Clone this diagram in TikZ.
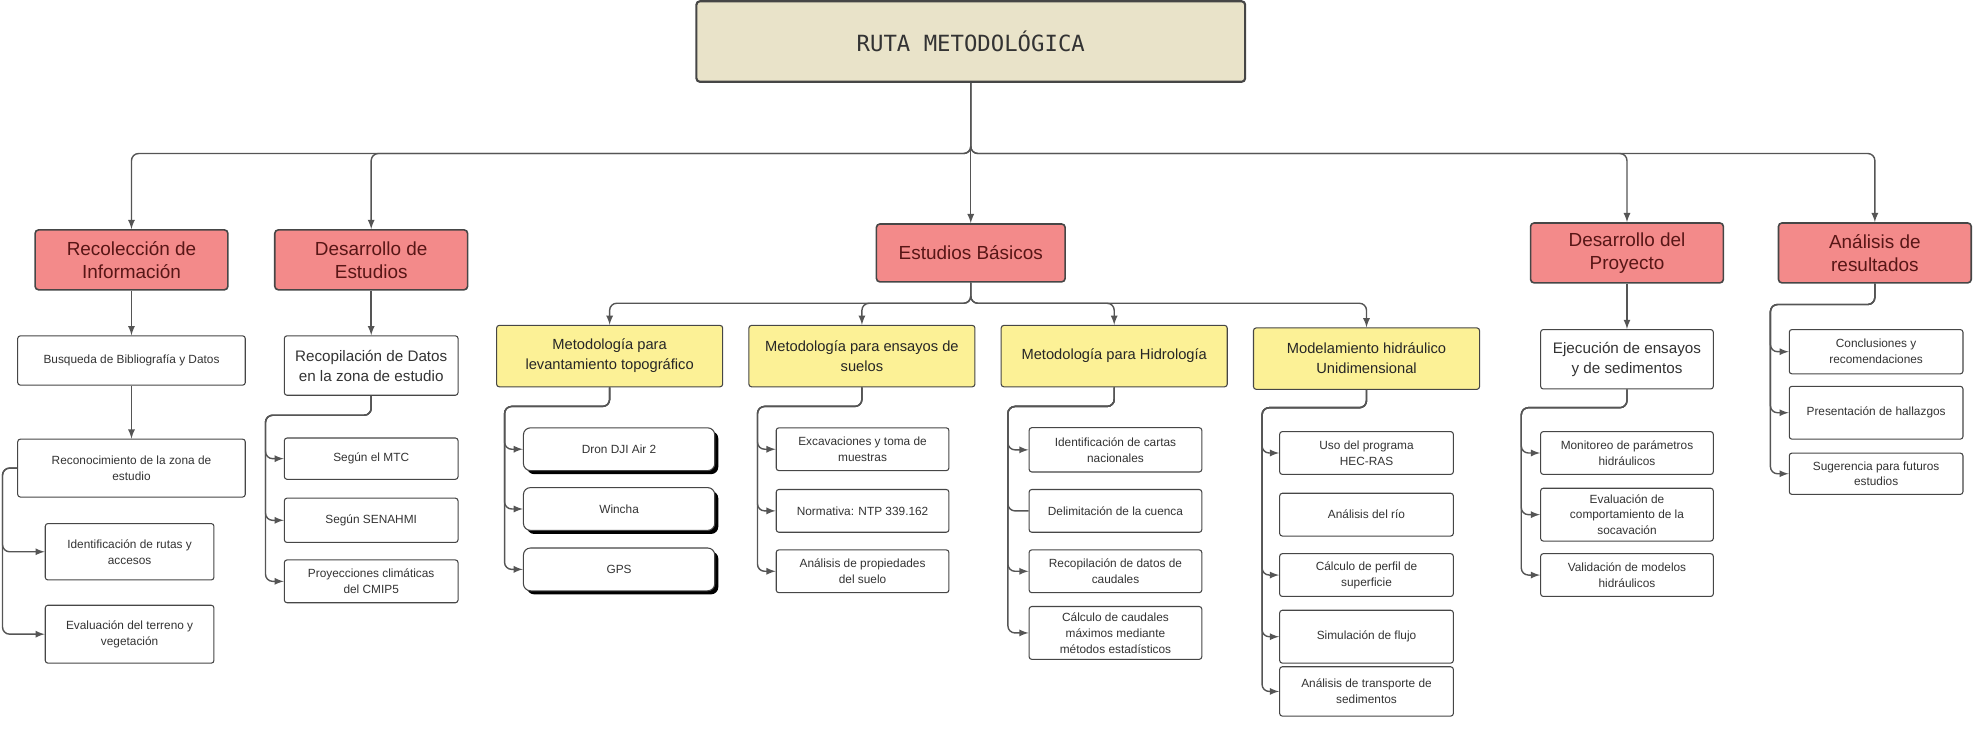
\documentclass[tikz,border=0pt]{standalone}
\usepackage{fontspec}
\setmainfont{Liberation Sans}
\newfontfamily\titulofont{DejaVu Sans Mono}
\usetikzlibrary{shadows}
\definecolor{crema}{RGB}{233,227,201}
\definecolor{rojo}{RGB}{243,138,138}
\definecolor{vino}{RGB}{88,22,22}
\definecolor{amarillo}{RGB}{252,241,150}
\definecolor{borde}{RGB}{70,70,70}
\definecolor{linea}{RGB}{85,85,85}
\tikzset{
	titulo/.style={draw=borde, line width=1.2pt, rectangle, rounded corners=2pt, fill=crema, minimum width=10.9cm, minimum height=1.6cm, font=\titulofont\fontsize{12.6}{15}\selectfont, text=black!80},
	fase/.style={draw=borde, line width=0.9pt, rectangle, rounded corners=2pt, fill=rojo, minimum width=3.83cm, minimum height=1.19cm, align=center, inner sep=1pt, text=vino, font=\fontsize{10.7}{13}\selectfont},
	metodo/.style={draw=borde, line width=0.6pt, rectangle, rounded corners=1.5pt, fill=amarillo, minimum width=4.49cm, minimum height=1.22cm, align=center, inner sep=1pt, text=black!85, font=\fontsize{8.3}{11.3}\selectfont},
	tarea/.style={draw=borde, line width=0.6pt, rectangle, rounded corners=1.5pt, fill=white, minimum width=3.43cm, minimum height=0.85cm, align=center, inner sep=1pt, text=black!80, font=\fontsize{6.7}{9}\selectfont},
	% caja con sombra (equipos)
	equipo/.style={tarea, rounded corners=4pt, minimum width=3.8cm, drop shadow={opacity=1, fill=black, shadow xshift=2pt, shadow yshift=-2pt}},
	medio/.style={font=\fontsize{8.6}{11.3}\selectfont},
	conector/.style={draw=linea, line width=0.8pt, rounded corners=4pt},
}

\begin{document}
\begin{tikzpicture}[x=0.025cm, y=-0.025cm]
	\useasboundingbox (0,0) rectangle (1568,581);
	
	\node (ruta) [titulo] at (771.5,33) {RUTA METODOLÓGICA};
	\coordinate (bus) at (771.5,122);
	
	\node (f1) [fase] at (104.5,206.5) {Recolección de\\Información};
	\node (f2) [fase] at (295,206.5) {Desarrollo de\\Estudios};
	\node (f3) [fase, minimum width=3.75cm, minimum height=1.15cm] at (771.5,201) {Estudios Básicos};
	\node (f4) [fase] at (1293,201) {Desarrollo del\\Proyecto};
	\node (f5) [fase] at (1490,201) {Análisis de\\resultados};
	
	\node (b1) [tarea, minimum width=4.52cm, minimum height=0.98cm] at (104.5,286.5) {Busqueda de Bibliografía y Datos};
	\node (b2) [tarea, minimum width=4.52cm, minimum height=1.15cm] at (104.5,372) {Reconocimiento de la zona de\\estudio};
	\node (b3) [tarea, minimum width=3.35cm, minimum height=1.12cm] at (103,438.5) {Identificación de rutas y\\accesos};
	\node (b4) [tarea, minimum width=3.35cm, minimum height=1.15cm] at (103,504) {Evaluación del terreno y\\vegetación};
	\coordinate (b2c) at (2,372);
	
	\node (c1) [tarea, medio, minimum width=3.45cm, minimum height=1.18cm] at (295,290.5) {Recopilación de Datos\\en la zona de estudio};
	\node (c2) [tarea, minimum width=3.45cm, minimum height=0.82cm] at (295,364.5) {Según el MTC};
	\node (c3) [tarea, minimum width=3.45cm, minimum height=0.88cm] at (295,413.5) {Según SENAHMI};
	\node (c4) [tarea, minimum width=3.45cm, minimum height=0.85cm] at (295,462) {Proyecciones climáticas\\del CMIP5};
	\coordinate (c1c) at (211,330);
	
	\coordinate (sub) at (771.5,241);
	\node (m1) [metodo] at (484.5,283) {Metodología para\\levantamiento topográfico};
	\node (m2) [metodo] at (685,283) {Metodología para ensayos de\\suelos};
	\node (m3) [metodo] at (885.5,283) {Metodología para Hidrología};
	\node (m4) [metodo] at (1086,285) {Modelamiento hidráulico\\Unidimensional};
	
	\node (e1) [equipo] at (492,357) {Dron DJI Air 2};
	\node (e2) [equipo] at (492,404.5) {Wincha};
	\node (e3) [equipo] at (492,452.5) {GPS};
	\coordinate (m1c) at (401,323);
	
	\node (s1) [tarea] at (685.5,357) {Excavaciones y toma de\\muestras};
	\node (s2) [tarea] at (685.5,406) {Normativa: NTP 339.162};
	\node (s3) [tarea] at (685.5,454) {Análisis de propiedades\\del suelo};
	\coordinate (m2c) at (602,323);
	
	\node (h1) [tarea, minimum height=0.88cm] at (886.5,357.5) {Identificación de cartas\\nacionales};
	\node (h2) [tarea] at (886.5,406) {Delimitación de la cuenca};
	\node (h3) [tarea] at (886.5,454) {Recopilación de datos de\\caudales};
	\node (h4) [tarea, minimum height=1.05cm] at (886.5,503) {Cálculo de caudales\\máximos mediante\\métodos estadísticos};
	\coordinate (m3c) at (801,323);
	
	\node (n1) [tarea, minimum width=3.45cm] at (1086,360) {Uso del programa\\HEC-RAS};
	\node (n2) [tarea, minimum width=3.45cm] at (1086,409) {Análisis del río};
	\node (n3) [tarea, minimum width=3.45cm] at (1086,457) {Cálculo de perfil de\\superficie};
	\node (n4) [tarea, minimum width=3.45cm, minimum height=1.05cm] at (1086,506) {Simulación de flujo};
	\node (n5) [tarea, minimum width=3.45cm, minimum height=0.98cm] at (1086,549.5) {Análisis de transporte de\\sedimentos};
	\coordinate (m4c) at (1003,324);
	
	\node (d1) [tarea, medio, minimum height=1.18cm] at (1293,285.5) {Ejecución de ensayos\\y de sedimentos};
	\node (d2) [tarea] at (1293,360) {Monitoreo de parámetros\\hidráulicos};
	\node (d3) [tarea, minimum height=1.05cm] at (1293,409) {Evaluación de\\comportamiento de la\\socavación};
	\node (d4) [tarea] at (1293,457) {Validación de modelos\\hidráulicos};
	\coordinate (d1c) at (1209,324);
	
	\node (a1) [tarea, minimum width=3.45cm, minimum height=0.88cm] at (1491,279.5) {Conclusiones y\\recomendaciones};
	\node (a2) [tarea, minimum width=3.45cm, minimum height=1.05cm] at (1491,328) {Presentación de hallazgos};
	\node (a3) [tarea, minimum width=3.45cm, minimum height=0.82cm] at (1491,376.5) {Sugerencia para futuros\\estudios};
	\coordinate (f5c) at (1407,242);
	
	\begin{scope}[conector, ->, >=latex]
		\draw (ruta.south) -- (bus) -| (f1.north);
		\draw (ruta.south) -- (bus) -| (f2.north);
		\draw (ruta.south) -- (f3.north);
		\draw (ruta.south) -- (bus) -| (f4.north);
		\draw (ruta.south) -- (bus) -| (f5.north);
		
		\draw (f1) -- (b1);
		\draw (b1) -- (b2);
		\draw (b2.west) -- (b2c) |- (b3.west);
		\draw (b2.west) -- (b2c) |- (b4.west);
		
		\draw (f2) -- (c1);
		\draw (c1.south) |- (c1c) |- (c2.west);
		\draw (c1.south) |- (c1c) |- (c3.west);
		\draw (c1.south) |- (c1c) |- (c4.west);
		
		\draw (f3.south) -- (sub) -| (m1.north);
		\draw (f3.south) -- (sub) -| (m2.north);
		\draw (f3.south) -- (sub) -| (m3.north);
		\draw (f3.south) -- (sub) -| (m4.north);
		
		\draw (m1.south) |- (m1c) |- (e1.west);
		\draw (m1.south) |- (m1c) |- (e2.west);
		\draw (m1.south) |- (m1c) |- (e3.west);
		
		\draw (m2.south) |- (m2c) |- (s1.west);
		\draw (m2.south) |- (m2c) |- (s2.west);
		\draw (m2.south) |- (m2c) |- (s3.west);
		
		\draw (m3.south) |- (m3c) |- (h1.west);
		\draw[-] (m3.south) |- (m3c) |- (h2.west);
		\draw (m3.south) |- (m3c) |- (h3.west);
		\draw (m3.south) |- (m3c) |- (h4.west);
		
		\draw (m4.south) |- (m4c) |- (n1.west);
		\draw (m4.south) |- (m4c) |- (n3.west);
		\draw (m4.south) |- (m4c) |- (n4.west);
		\draw (m4.south) |- (m4c) |- (n5.west);
		
		\draw (f4) -- (d1);
		\draw (d1.south) |- (d1c) |- (d2.west);
		\draw (d1.south) |- (d1c) |- (d3.west);
		\draw (d1.south) |- (d1c) |- (d4.west);
		
		\draw (f5.south) |- (f5c) |- (a1.west);
		\draw (f5.south) |- (f5c) |- (a2.west);
		\draw (f5.south) |- (f5c) |- (a3.west);
	\end{scope}
	
\end{tikzpicture}
\end{document}
